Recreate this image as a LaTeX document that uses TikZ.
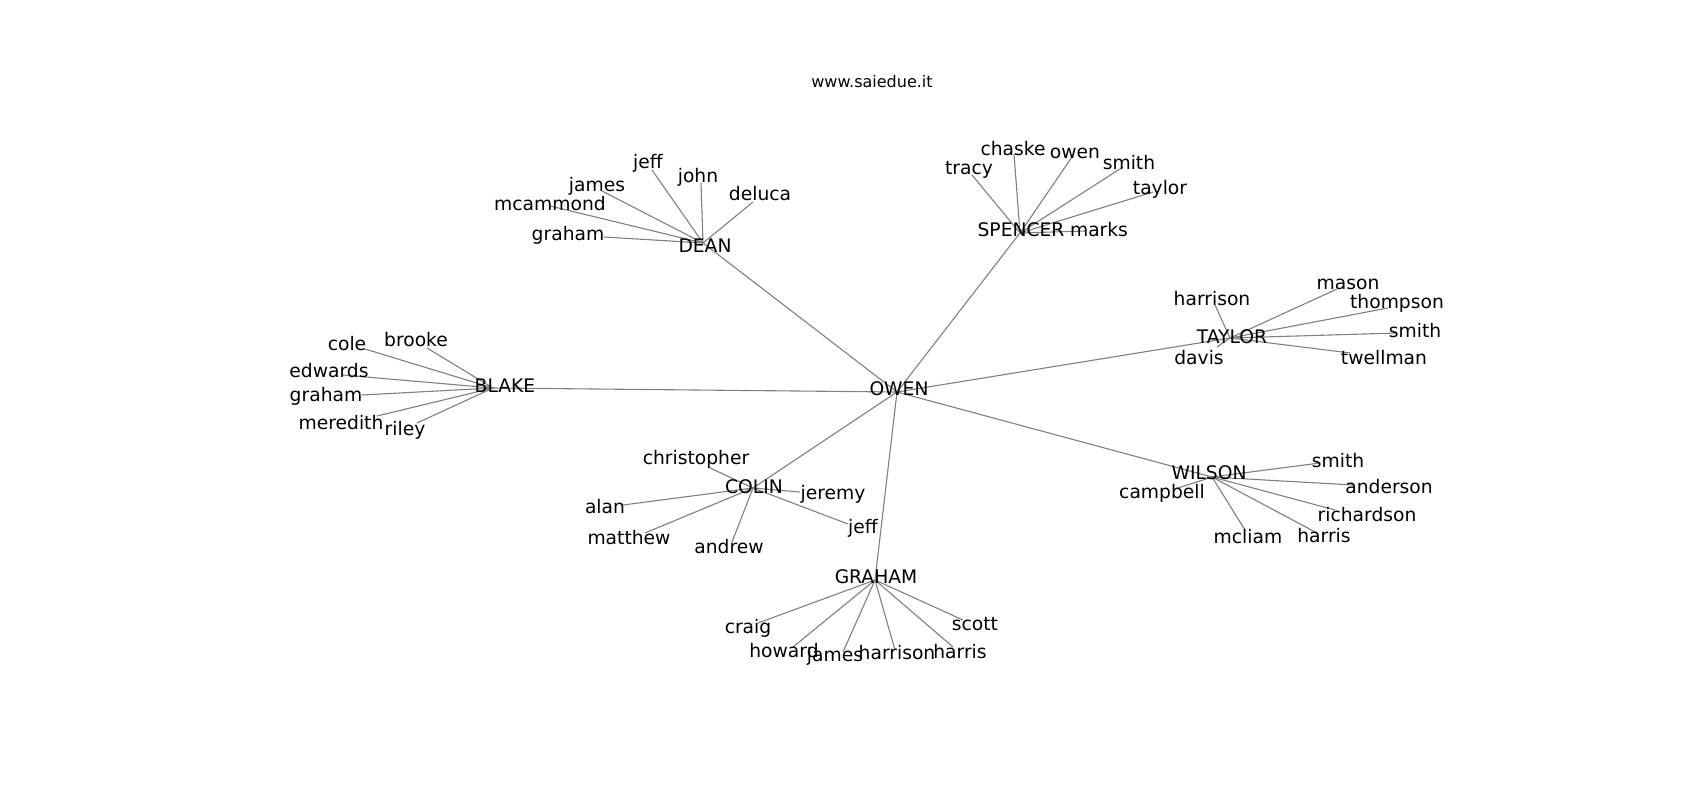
\documentclass[tikz,border=0pt]{standalone}
\usepackage{fontspec}
\setmainfont{DejaVu Sans}
\begin{document}
\begin{tikzpicture}[x=1pt,y=-1pt,
  lbl/.style={inner sep=0pt,anchor=center,font=\fontsize{18.7}{22}\selectfont},
  ttl/.style={inner sep=0pt,anchor=center,font=\fontsize{16}{19}\selectfont},
  edge/.style={draw=black!50,line width=1.1pt}]
\useasboundingbox[fill=white] (0,0) rectangle (1700,800);
% ---- end points of the connectors
\coordinate (pOWEN) at (897,392);
\coordinate (pDEAN) at (703,243);
\coordinate (pSPENCER) at (1020,233);
\coordinate (pTAYLOR) at (1230,338);
\coordinate (pBLAKE) at (493,388);
\coordinate (pCOLIN) at (753,488);
\coordinate (pWILSON) at (1212,477);
\coordinate (pGRAHAM) at (875,580);
% DEAN
\coordinate (pd1) at (604,237);
\coordinate (pd2) at (550,206);
\coordinate (pd3) at (602,191);
\coordinate (pd4) at (652,170);
\coordinate (pd5) at (701,183);
\coordinate (pd6) at (753,202);
% SPENCER
\coordinate (ps1) at (972,175);
\coordinate (ps2) at (1014,154);
\coordinate (ps3) at (1072,157);
\coordinate (ps4) at (1123,167);
\coordinate (ps5) at (1153,192);
\coordinate (ps6) at (1085,231);
% TAYLOR
\coordinate (pt1) at (1215,305);
\coordinate (pt2) at (1337,289);
\coordinate (pt3) at (1388,308);
\coordinate (pt4) at (1397,333);
\coordinate (pt5) at (1350,353);
\coordinate (pt6) at (1217,347);
% BLAKE
\coordinate (pb1) at (365,349);
\coordinate (pb2) at (427,348);
\coordinate (pb3) at (343,375);
\coordinate (pb4) at (362,395);
\coordinate (pb5) at (377,416);
\coordinate (pb6) at (417,423);
% COLIN
\coordinate (pc1) at (708,467);
\coordinate (pc2) at (800,492);
\coordinate (pc3) at (623,505);
\coordinate (pc4) at (645,533);
\coordinate (pc5) at (732,542);
\coordinate (pc6) at (848,524);
% WILSON
\coordinate (pw1) at (1320,463);
\coordinate (pw2) at (1353,485);
\coordinate (pw3) at (1335,510);
\coordinate (pw4) at (1245,530);
\coordinate (pw5) at (1317,533);
\coordinate (pw6) at (1175,489);
% GRAHAM
\coordinate (pg1) at (758,623);
\coordinate (pg2) at (793,647);
\coordinate (pg3) at (843,652);
\coordinate (pg4) at (895,650);
\coordinate (pg5) at (953,647);
\coordinate (pg6) at (963,620);
% ---- connectors
\foreach \h in {DEAN,SPENCER,TAYLOR,BLAKE,COLIN,WILSON,GRAHAM}
  {\draw[edge] (pOWEN) -- (p\h);}
\foreach \i in {1,...,6}
  {\draw[edge] (pDEAN) -- (pd\i);
   \draw[edge] (pSPENCER) -- (ps\i);
   \draw[edge] (pTAYLOR) -- (pt\i);
   \draw[edge] (pBLAKE) -- (pb\i);
   \draw[edge] (pCOLIN) -- (pc\i);
   \draw[edge] (pWILSON) -- (pw\i);
   \draw[edge] (pGRAHAM) -- (pg\i);}
% ---- labels
\node[ttl] (title) at (872,82) {www.saiedue.it};
\node[lbl] (OWEN) at (899,389) {OWEN};
\node[lbl] (DEAN) at (705,246) {DEAN};
\node[lbl] (SPENCER) at (1021,230) {SPENCER};
\node[lbl] (TAYLOR) at (1232,337) {TAYLOR};
\node[lbl] (BLAKE) at (505,386) {BLAKE};
\node[lbl] (COLIN) at (754,487) {COLIN};
\node[lbl] (WILSON) at (1209,473) {WILSON};
\node[lbl] (GRAHAM) at (876,577) {GRAHAM};
% DEAN
\node[lbl] (d1) at (568,235) {graham};
\node[lbl] (d2) at (550,204) {mcammond};
\node[lbl] (d3) at (597,186) {james};
\node[lbl] (d4) at (648,163) {jeff};
\node[lbl] (d5) at (698,177) {john};
\node[lbl] (d6) at (760,194) {deluca};
% SPENCER
\node[lbl] (s1) at (969,170) {tracy};
\node[lbl] (s2) at (1013,149) {chaske};
\node[lbl] (s3) at (1075,153) {owen};
\node[lbl] (s4) at (1129,163) {smith};
\node[lbl] (s5) at (1160,189) {taylor};
\node[lbl] (s6) at (1099,230) {marks};
% TAYLOR
\node[lbl] (t1) at (1212,299) {harrison};
\node[lbl] (t2) at (1348,284) {mason};
\node[lbl] (t3) at (1397,303) {thompson};
\node[lbl] (t4) at (1415,331) {smith};
\node[lbl] (t5) at (1384,358) {twellman};
\node[lbl] (t6) at (1199,358) {davis};
% BLAKE
\node[lbl] (b1) at (347,344) {cole};
\node[lbl] (b2) at (416,340) {brooke};
\node[lbl] (b3) at (329,371) {edwards};
\node[lbl] (b4) at (326,396) {graham};
\node[lbl] (b5) at (341,423) {meredith};
\node[lbl] (b6) at (405,430) {riley};
% COLIN
\node[lbl] (c1) at (696,459) {christopher};
\node[lbl] (c2) at (833,494) {jeremy};
\node[lbl] (c3) at (605,507) {alan};
\node[lbl] (c4) at (629,538) {matthew};
\node[lbl] (c5) at (729,547) {andrew};
\node[lbl] (c6) at (863,528) {jeff};
% WILSON
\node[lbl] (w1) at (1338,461) {smith};
\node[lbl] (w2) at (1389,487) {anderson};
\node[lbl] (w3) at (1367,515) {richardson};
\node[lbl] (w4) at (1248,537) {mcliam};
\node[lbl] (w5) at (1324,536) {harris};
\node[lbl] (w6) at (1162,493) {campbell};
% GRAHAM
\node[lbl] (g1) at (748,628) {craig};
\node[lbl] (g2) at (784,651) {howard};
\node[lbl] (g3) at (835,656) {james};
\node[lbl] (g4) at (897,653) {harrison};
\node[lbl] (g5) at (960,652) {harris};
\node[lbl] (g6) at (975,624) {scott};
\end{tikzpicture}
\end{document}
